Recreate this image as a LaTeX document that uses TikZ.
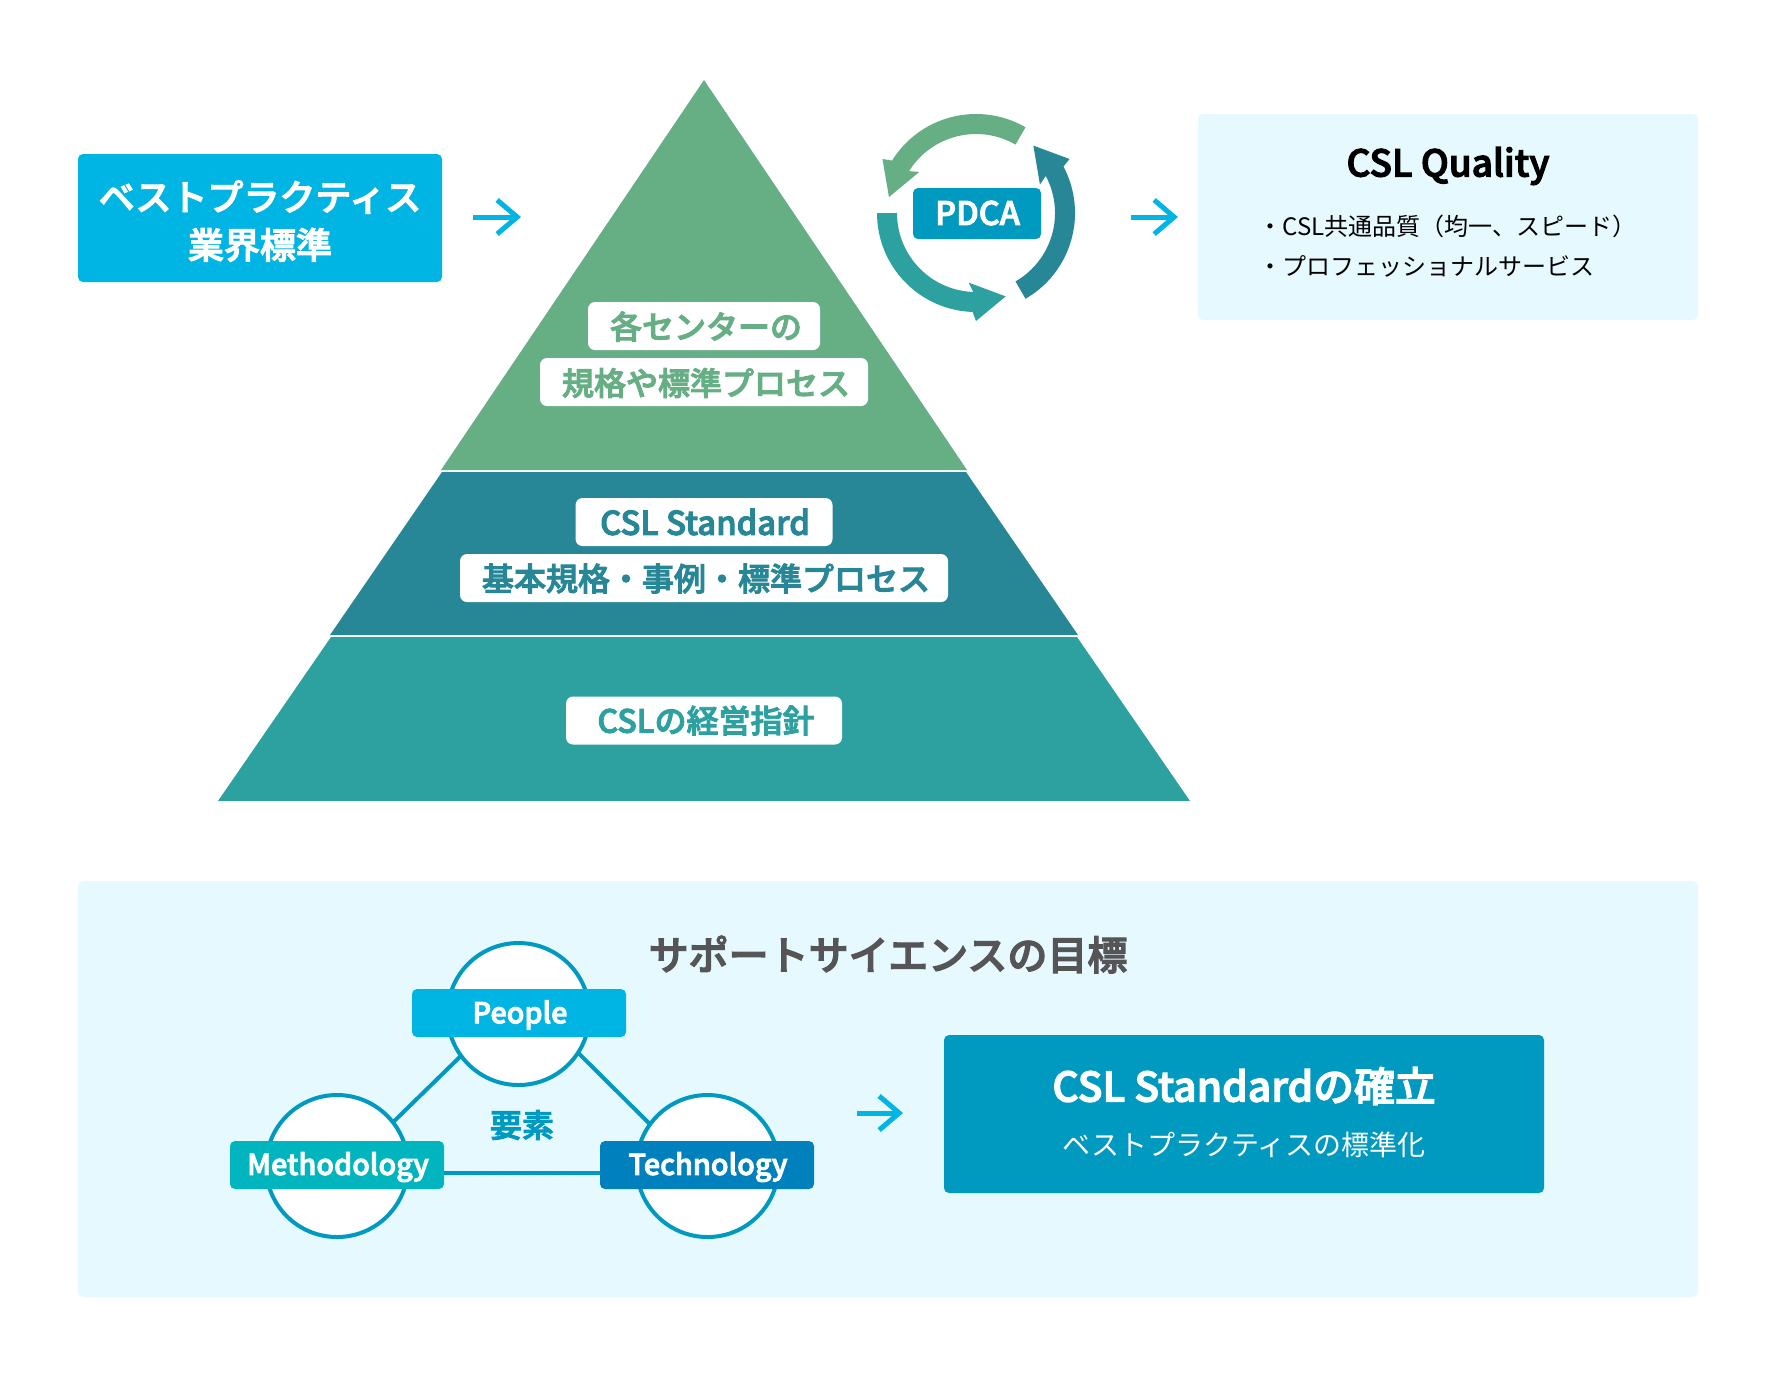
\documentclass[tikz,border=0pt]{standalone}
\usepackage{fontspec}
\setmainfont{Noto Sans CJK JP}[BoldFont={Noto Sans CJK JP Medium},BoldFeatures={FakeBold=3}]
\usetikzlibrary{arrows.meta}
\definecolor{sky}{HTML}{00B5E3}
\definecolor{pale}{HTML}{E5F9FF}
\definecolor{deep}{HTML}{0099C0}
\definecolor{leaf}{HTML}{66AE84}
\definecolor{dteal}{HTML}{278796}
\definecolor{teal2}{HTML}{2DA0A0}
\definecolor{cmeth}{HTML}{00B5BD}
\definecolor{ctech}{HTML}{0080BC}
\definecolor{greyt}{HTML}{555558}
\newcommand{\fs}[1]{\fontsize{#1}{#1}\selectfont}
\tikzset{
  x=0.5pt,y=-0.5pt,
  rbox/.style={rounded corners=2.5pt,inner sep=0pt,outer sep=0pt,align=center},
  whitelab/.style={rbox,fill=white,rounded corners=3.5pt,minimum height=24pt},
  whitetxt/.style={inner sep=0pt,font=\fs{16}\bfseries},
  tag/.style={rbox,minimum width=107pt,minimum height=24pt},
  tagtxt/.style={inner sep=0pt,text=white,font=\fs{14.4}\bfseries},
  ring/.style={circle,draw=deep,fill=white,line width=2pt,minimum size=71pt,inner sep=0pt,outer sep=0pt},
  link/.style={draw=deep,line width=2pt},
  goarrow/.style={draw=sky,line width=2.5pt,-{Straight Barb[length=10pt,width=17pt,line width=2.5pt]}},
}
\begin{document}
\begin{tikzpicture}
\useasboundingbox (0,0) rectangle (1780,1378);
\fill[white] (0,0) rectangle (1780,1378);
% pyramid
\fill[leaf] (704,80) -- (967,470) -- (441,470) -- cycle;
\fill[dteal] (442,472) -- (966,472) -- (1078,635) -- (330,635) -- cycle;
\fill[teal2] (331,637) -- (1077,637) -- (1190,801) -- (218,801) -- cycle;
\node[whitelab,minimum width=116pt] (l1) at (704,326) {};
\node[whitetxt,text=leaf] (t1) at (706,326.5) {各センターの};
\node[whitelab,minimum width=164pt] (l2) at (704,382) {};
\node[whitetxt,text=leaf] (t2) at (706,383) {規格や標準プロセス};
\node[whitelab,minimum width=128.5pt] (l3) at (704,522) {};
\node[whitetxt,text=dteal,font=\fs{16.4}\bfseries] (t3) at (705,522) {CSL Standard};
\node[whitelab,minimum width=244pt] (l4) at (704,578) {};
\node[whitetxt,text=dteal] (t4) at (706,578.5) {基本規格・事例・標準プロセス};
\node[whitelab,minimum width=138pt] (l5) at (704,720.5) {};
\node[whitetxt,text=teal2] (t5) at (706,720.5) {CSLの経営指針};
% best practice
\node[rbox,fill=sky,minimum width=182pt,minimum height=64pt] (best) at (260,218) {};
\node[inner sep=0pt,text=white,align=center,font=\fs{18}\bfseries,execute at begin node={\setlength{\baselineskip}{24pt}}] (bt) at (260,221) {ベストプラクティス\\業界標準};
\coordinate (a1s) at (473,217);
\coordinate (a1e) at (521,217);
\draw[goarrow] (a1s) -- (a1e);
% PDCA
\begin{scope}[shift={(976,213)},x=0.5pt,y=0.5pt]
\foreach \r/\c in {0/leaf,120/teal2,240/dteal}{
  \fill[\c,rotate=\r] (60:99) arc[start angle=60,end angle=148,radius=99] -- (150:108) -- (169.6:88.5) -- (144:70) -- (148:79) arc[start angle=148,end angle=60,radius=79] -- cycle;
}
\end{scope}
\node[rbox,fill=deep,minimum width=64pt,minimum height=25.5pt] (pdca) at (977,213.5) {};
\node[inner sep=0pt,text=white,font=\fs{16.2}\bfseries] (pt) at (977.5,213) {PDCA};
\coordinate (a2s) at (1131,217);
\coordinate (a2e) at (1178,217);
\draw[goarrow] (a2s) -- (a2e);
% quality
\node[rbox,fill=pale,minimum width=250pt,minimum height=103pt] (qual) at (1448,217) {};
\node[font=\fs{18.5}\bfseries,inner sep=0pt] (qt) at (1448,166) {CSL Quality};
\node[anchor=west,inner sep=0pt,font=\fs{12},align=left,execute at begin node={\setlength{\baselineskip}{20pt}}] (qb) at (1258,246) {・CSL共通品質（均一、スピード）\\・プロフェッショナルサービス};
% bottom panel
\node[rbox,fill=pale,minimum width=810pt,minimum height=208pt] (panel) at (888,1089) {};
\node[font=\fs{20}\bfseries,text=greyt,inner sep=0pt] (ptitle) at (888,954.5) {サポートサイエンスの目標};
\node[ring] (cp) at (518.5,1014) {};
\node[ring] (cm) at (337,1166) {};
\node[ring] (ct) at (707.5,1166) {};
\draw[link] (cp.216) -- (cm.38);
\draw[link] (cp.-33) -- (ct.144);
\node[tag,fill=sky] (people) at (519,1013) {};
\node[tagtxt] (ppl) at (520,1015) {People};
\node[tag,fill=cmeth] (meth) at (337,1165) {};
\node[tagtxt] (mtx) at (338,1167) {Methodology};
\node[tag,fill=ctech] (tech) at (707,1165) {};
\node[tagtxt] (ttx) at (708,1167) {Technology};
\draw[link] ([yshift=-4pt]meth.east) -- ([yshift=-4pt]tech.west);
\node[font=\fs{16}\bfseries,text=deep,inner sep=0pt] (yoso) at (522,1125) {要素};
\coordinate (a3s) at (857,1113);
\coordinate (a3e) at (903,1113);
\draw[goarrow] (a3s) -- (a3e);
\node[rbox,fill=deep,minimum width=300pt,minimum height=79pt] (goal) at (1244,1114) {};
\node[font=\fs{20.4}\bfseries,text=white,inner sep=0pt] (g1) at (1244,1086) {CSL Standardの確立};
\node[font=\fs{14},text=white,inner sep=0pt] (g2) at (1244,1145) {ベストプラクティスの標準化};
\end{tikzpicture}
\end{document}
